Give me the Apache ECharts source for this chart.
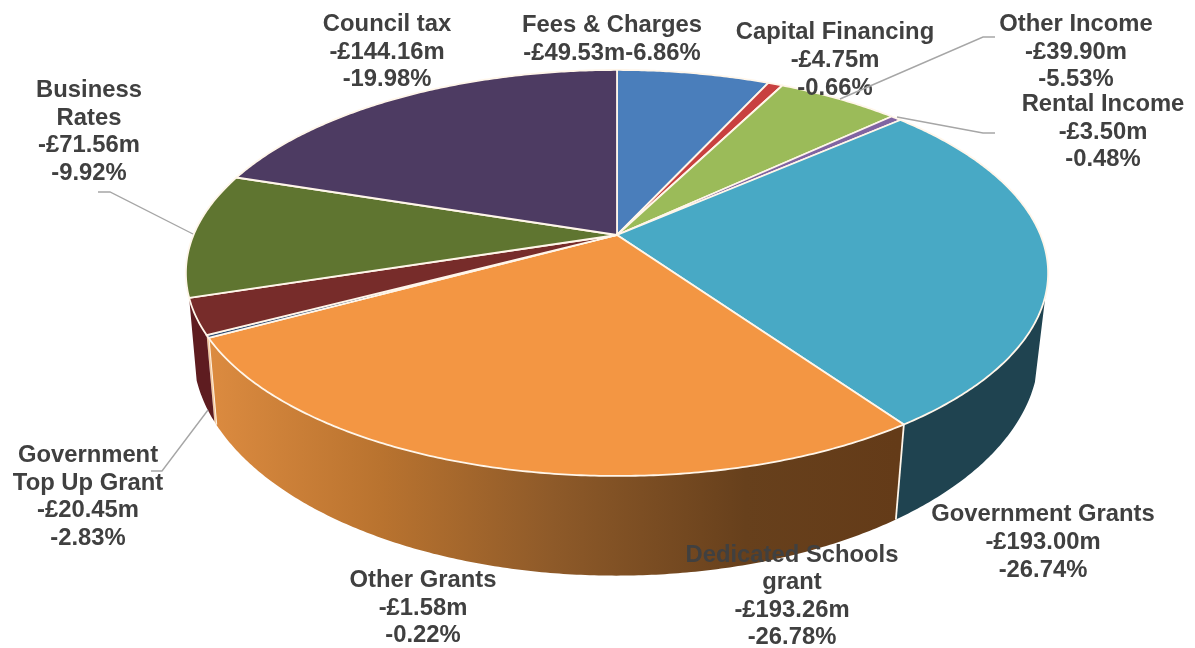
<!DOCTYPE html>
<html>
<head>
<meta charset="utf-8">
<script src="https://cdn.jsdelivr.net/npm/echarts@6/dist/echarts.min.js"></script>
<style>html,body{margin:0;padding:0;background:#fff}#chart{width:1195px;height:648px}</style>
</head>
<body>
<div id="chart"></div>
<script>
// Income budget by source, £m, clockwise from twelve o'clock
const titles = ['Fees & Charges', 'Capital Financing', 'Other Income', 'Rental Income', 'Government Grants',
  'Dedicated Schools\ngrant', 'Other Grants', 'Government\nTop Up Grant', 'Business\nRates', 'Council tax'];
const amounts = [-49.53, -4.75, -39.90, -3.50, -193.00, -193.26, -1.58, -20.45, -71.56, -144.16];
const shares = ['-6.86%', '-0.66%', '-5.53%', '-0.48%', '-26.74%', '-26.78%', '-0.22%', '-2.83%', '-9.92%', '-19.98%'];

// Slice colours
const faceColors = ['#4A7EBB', '#C8403F', '#9BBB59', '#8064A2', '#48A9C5', '#F39643', '#2C4D75', '#772C2A', '#5F7530', '#4D3B62'];
const rimFill = {
  4: '#1F4350',
  5: { type: 'linear', x: 208, y: 0, x2: 897, y2: 0, global: true, colorStops: [
    { offset: 0, color: '#DC8B40' }, { offset: 0.25, color: '#B9732F' }, { offset: 0.5, color: '#8E5A29' },
    { offset: 0.78, color: '#67401C' }, { offset: 1, color: '#643B18' } ] },
  6: '#F2C9A0',
  7: '#5E1C20'
};
// The teal rim only shows from the disc's right-hand silhouette onward
const rimStart = { 4: { upper: 0.297, lower: 0.30 } };

// Label layout: block centre and optional leader line
const labelPlace = [
  { x: 612, y: 39.5, oneLine: true }, { x: 835, y: 60.5 }, { x: 1076, y: 52, leader: [[840, 99], [983, 37], [995, 37]] },
  { x: 1103, y: 132, leader: [[897, 117], [983, 133], [995, 133]] }, { x: 1043, y: 542.5 }, { x: 792, y: 596.5 },
  { x: 423, y: 608 }, { x: 88, y: 497, leader: [[151, 471], [162, 471], [208, 410]] },
  { x: 89, y: 132, leader: [[98, 192], [110, 192], [193, 234]] }, { x: 387, y: 52 }
];

const total = amounts.reduce((s, v) => s + Math.abs(v), 0);
const cumulative = [0];
amounts.forEach((v, i) => cumulative.push(cumulative[i] + Math.abs(v) / total));

// The disc is a circle seen in perspective, so a unit-circle point maps through a projective divide
const topDisc = { cx: 617, cy: 235, bx: 423.5, by: 195.9, k: 0.187 };
const baseDisc = { cx: 616, cy: 311, bx: 416, by: 217, k: 0.18 };
function project(d, frac) {
  const a = frac * 2 * Math.PI, x = Math.sin(a), y = -Math.cos(a), w = 1 - d.k * y;
  return [d.cx + d.bx * x / w, d.cy + d.by * y / w];
}
function arc(d, from, to) {
  const n = Math.max(2, Math.ceil((to - from) * 720)), pts = [];
  for (let i = 0; i <= n; i++) pts.push(project(d, from + (to - from) * i / n));
  return pts;
}

const sliceData = amounts.map((v, i) => [cumulative[i], cumulative[i + 1]]);
const edgeColor = '#FFF6EA';

function renderRim(params, api) {
  const i = params.dataIndex, from = api.value(0), to = api.value(1);
  if (!rimFill[i]) return { type: 'group', children: [] };
  const start = rimStart[i] || { upper: from, lower: from };
  const upper = arc(topDisc, start.upper, to), lower = arc(baseDisc, start.lower, to).reverse();
  const children = [{ type: 'polygon', shape: { points: upper.concat(lower) }, style: { fill: rimFill[i] } }];
  if (i === 5) {
    [from, to].forEach(f => children.push({ type: 'line',
      shape: { x1: project(topDisc, f)[0], y1: project(topDisc, f)[1], x2: project(baseDisc, f)[0], y2: project(baseDisc, f)[1] },
      style: { stroke: edgeColor, lineWidth: 1.8 } }));
  }
  return { type: 'group', children };
}

function renderFace(params, api) {
  const i = params.dataIndex, from = api.value(0), to = api.value(1);
  const pts = [[topDisc.cx, topDisc.cy]].concat(arc(topDisc, from, to));
  return { type: 'polygon', shape: { points: pts },
    style: { fill: faceColors[i], stroke: edgeColor, lineWidth: 1.8, lineJoin: 'round' } };
}

function formatAmount(v) { return '-£' + Math.abs(v).toFixed(2) + 'm'; }

function renderLabel(params, api) {
  const i = params.dataIndex, p = labelPlace[i], children = [];
  if (p.leader) children.push({ type: 'polyline', shape: { points: p.leader },
    style: { stroke: '#A6A6A6', lineWidth: 1.4, fill: 'none' } });
  const value = formatAmount(api.value(2));
  const text = p.oneLine ? titles[i] + '\n' + value + shares[i] : titles[i] + '\n' + value + '\n' + shares[i];
  children.push({ type: 'text', style: { x: p.x, y: p.y, text, align: 'center', verticalAlign: 'middle',
    font: 'bold 23.8px "Liberation Sans", Arial, sans-serif', lineHeight: 27.6, fill: '#404040' } });
  return { type: 'group', children };
}

const chart = echarts.init(document.getElementById('chart'), null, { renderer: 'canvas' });
chart.setOption({
  animation: false,
  backgroundColor: '#ffffff',
  series: [
    { type: 'custom', coordinateSystem: 'none', z: 1, silent: true, renderItem: renderRim, data: sliceData },
    { type: 'custom', coordinateSystem: 'none', z: 2, silent: true, renderItem: renderFace, data: sliceData },
    { type: 'custom', coordinateSystem: 'none', z: 3, silent: true, renderItem: renderLabel,
      data: sliceData.map((s, i) => [s[0], s[1], amounts[i]]) }
  ]
});
</script>
</body>
</html>
